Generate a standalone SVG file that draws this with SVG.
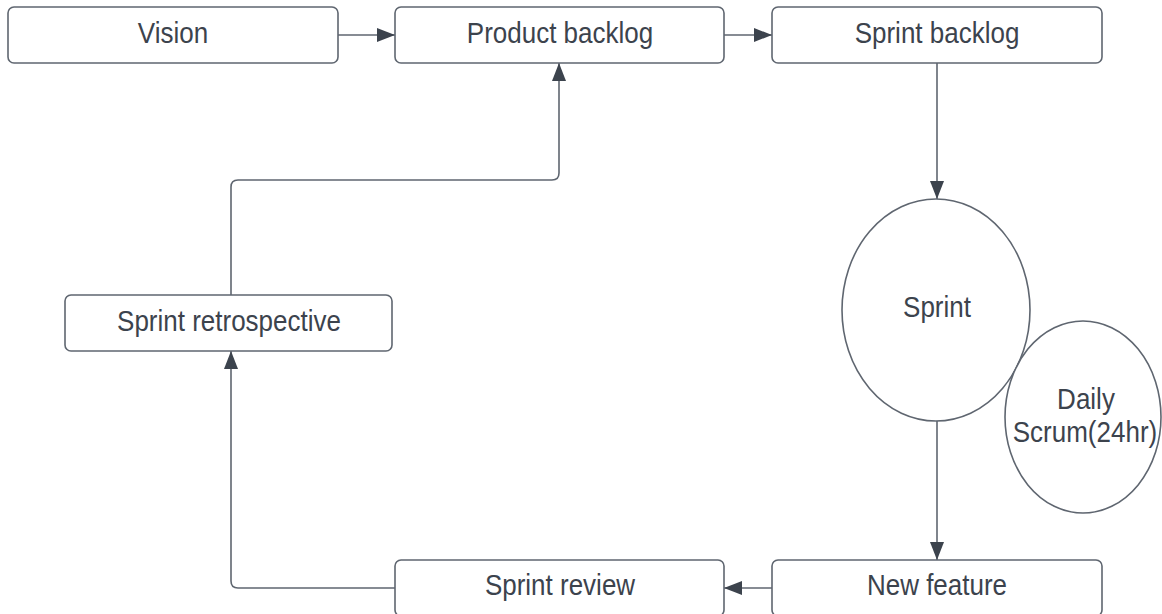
<svg xmlns="http://www.w3.org/2000/svg" width="1162" height="614" viewBox="0 0 1162 614">
<style>
.box{fill:#fff;stroke:#5f6670;stroke-width:1.6}
.lbl{font-family:"Liberation Sans",Arial,sans-serif;font-size:26px;fill:#3c434d;text-anchor:middle}
.con{fill:none;stroke:#5f6670;stroke-width:1.6}
</style>
<defs>
<marker id="ah" markerUnits="userSpaceOnUse" markerWidth="20" markerHeight="16" refX="18" refY="7" orient="auto">
<path d="M0,0 L18,7 L0,14 z" fill="#3c434d"/>
</marker>
</defs>
<rect width="1162" height="614" fill="#fff"/>
<g id="connectors">
<path class="con" d="M338,35 L395,35" marker-end="url(#ah)"/>
<path class="con" d="M724,35 L772,35" marker-end="url(#ah)"/>
<path class="con" d="M937,63 L937,199" marker-end="url(#ah)"/>
<path class="con" d="M937,421 L937,560" marker-end="url(#ah)"/>
<path class="con" d="M772,588 L724,588" marker-end="url(#ah)"/>
<path class="con" d="M395,588 L238,588 Q231,588 231,581 L231,351" marker-end="url(#ah)"/>
<path class="con" d="M231,295 L231,187 Q231,180 238,180 L552,180 Q559,180 559,173 L559,63" marker-end="url(#ah)"/>
</g>
<g id="vision">
<rect class="box" x="8" y="7" width="330" height="56" rx="6"/>
<text class="lbl" transform="translate(173,43) scale(1,1.12)">Vision</text>
</g>
<g id="product-backlog">
<rect class="box" x="395" y="7" width="329" height="56" rx="6"/>
<text class="lbl" transform="translate(560,43) scale(1,1.12)">Product backlog</text>
</g>
<g id="sprint-backlog">
<rect class="box" x="772" y="7" width="330" height="56" rx="6"/>
<text class="lbl" transform="translate(937,43) scale(1,1.12)">Sprint backlog</text>
</g>
<g id="sprint">
<ellipse class="box" cx="936" cy="310" rx="94" ry="111"/>
<text class="lbl" transform="translate(937,317) scale(1,1.12)">Sprint</text>
</g>
<g id="daily-scrum">
<ellipse class="box" cx="1083" cy="417" rx="78" ry="96"/>
<text class="lbl" transform="translate(1086,409) scale(1,1.12)">Daily</text>
<text class="lbl" transform="translate(1085,442) scale(1,1.12)">Scrum(24hr)</text>
</g>
<g id="new-feature">
<rect class="box" x="772" y="560" width="330" height="56" rx="6"/>
<text class="lbl" transform="translate(937,595) scale(1,1.12)">New feature</text>
</g>
<g id="sprint-review">
<rect class="box" x="395" y="560" width="329" height="56" rx="6"/>
<text class="lbl" transform="translate(560,595) scale(1,1.12)">Sprint review</text>
</g>
<g id="sprint-retrospective">
<rect class="box" x="65" y="295" width="327" height="56" rx="6"/>
<text class="lbl" transform="translate(229,331) scale(1,1.12)">Sprint retrospective</text>
</g>
</svg>
